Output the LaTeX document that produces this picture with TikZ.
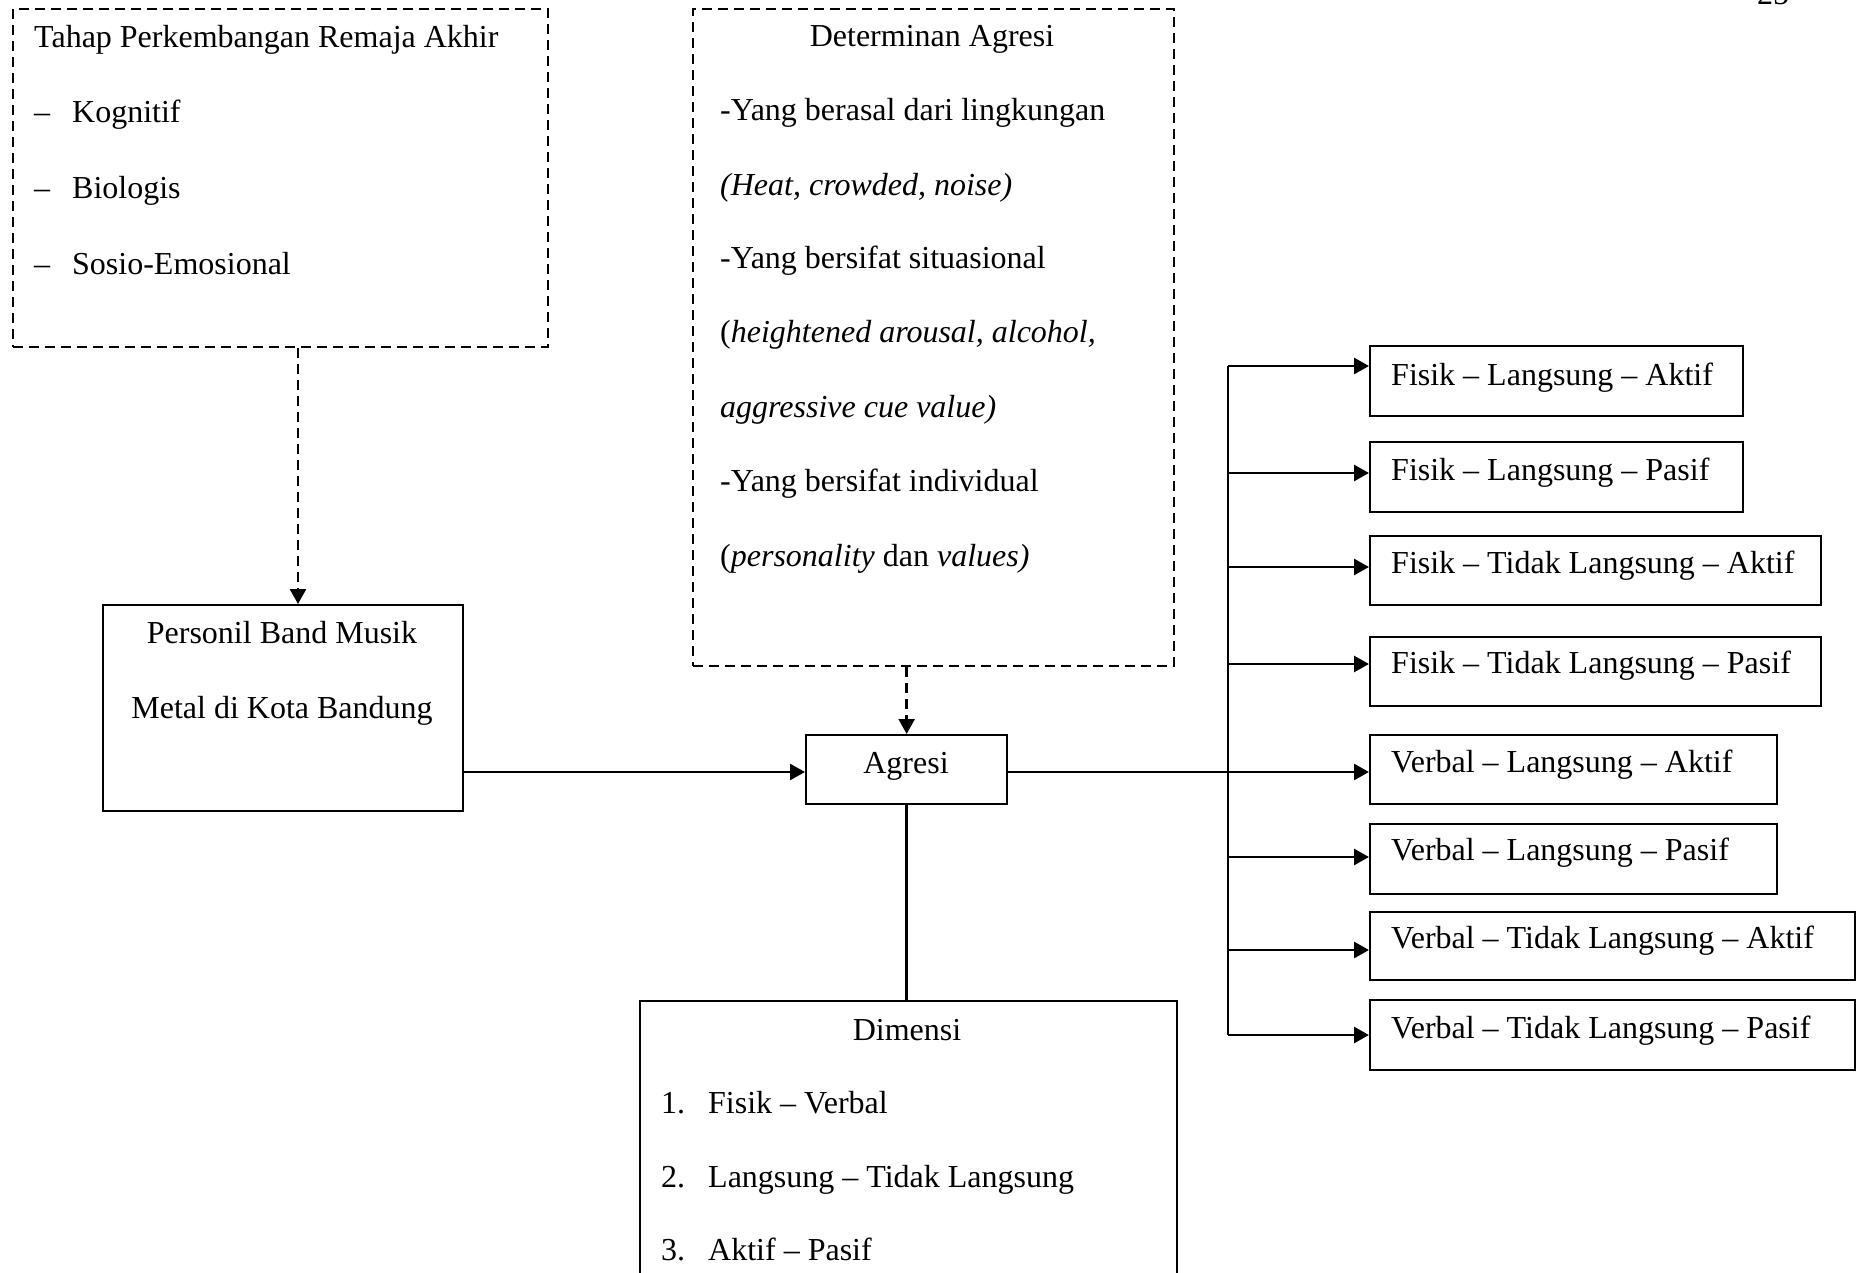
\documentclass[tikz,border=0pt]{standalone}
\usepackage{fontspec}
\setmainfont{Liberation Serif}
\usetikzlibrary{arrows.meta}
\begin{document}
\begin{tikzpicture}[x=1pt,y=-1pt,
  frame/.style={draw, line width=2.3pt, inner sep=0pt, anchor=north west},
  dframe/.style={frame, line width=2.2pt, dash pattern=on 10pt off 6pt},
  txt/.style={inner sep=0pt, anchor=base west, font=\fontsize{32}{38}\selectfont},
  ctxt/.style={txt, anchor=base},
  conn/.style={line width=2.8pt},
  arr/.style={conn, -{Triangle[length=15pt,width=16pt]}},
  darr/.style={arr, line width=2.5pt, dash pattern=on 10pt off 6pt}]
\useasboundingbox (0,0) rectangle (1856,1273);

% page number (cut off at top, as in the reference)
\node[ctxt] (pg) at (1773,5) {25};

% frames
\node[dframe, minimum width=535pt, minimum height=338pt] (lb) at (12,8) {};
\node[dframe, minimum width=481pt, minimum height=657pt] (det) at (692,8) {};
\node[frame, minimum width=360pt, minimum height=206pt] (pb) at (102,604) {};
\node[frame, minimum width=201pt, minimum height=69pt] (ag) at (805,734) {};
\node[frame, minimum width=537pt, minimum height=300pt] (dm) at (639,1000) {};
\node[frame, minimum width=373pt, minimum height=70pt] (f1) at (1369,345) {};
\node[frame, minimum width=373pt, minimum height=70pt] (f2) at (1369,441) {};
\node[frame, minimum width=451pt, minimum height=69pt] (f3) at (1369,535) {};
\node[frame, minimum width=451pt, minimum height=69pt] (f4) at (1369,636) {};
\node[frame, minimum width=407pt, minimum height=69pt] (v1) at (1369,734) {};
\node[frame, minimum width=407pt, minimum height=70pt] (v2) at (1369,823) {};
\node[frame, minimum width=485pt, minimum height=68pt] (v3) at (1369,911) {};
\node[frame, minimum width=485pt, minimum height=70pt] (v4) at (1369,999) {};

% left dashed box text
\node[txt] (lbt) at (34,48) {Tahap Perkembangan Remaja Akhir};
\node[txt] (lbd1) at (34,123) {–};
\node[txt] (lbi1) at (72,123) {Kognitif};
\node[txt] (lbd2) at (34,199) {–};
\node[txt] (lbi2) at (72,199) {Biologis};
\node[txt] (lbd3) at (34,275) {–};
\node[txt] (lbi3) at (72,275) {Sosio-Emosional};

% determinan text
\node[ctxt] (dett) at (932,47) {Determinan Agresi};
\node[txt] (det1) at (720,121) {-Yang berasal dari lingkungan};
\node[txt] (det2) at (720,196) {\textit{(Heat, crowded, noise)}};
\node[txt] (det3) at (720,269) {-Yang bersifat situasional};
\node[txt] (det4) at (720,343) {(\textit{heightened arousal, alcohol,}};
\node[txt] (det5) at (720,417) {\textit{aggressive cue value)}};
\node[txt] (det6) at (720,491) {-Yang bersifat individual};
\node[txt] (det7) at (720,566) {(\textit{personality} dan \textit{values)}};

% personil
\node[ctxt] (pb1) at (282,643) {Personil Band Musik};
\node[ctxt] (pb2) at (282,718) {Metal di Kota Bandung};

% agresi
\node[ctxt] (agt) at (906,773) {Agresi};

% dimensi
\node[ctxt] (dmt) at (907,1040) {Dimensi};
\node[txt] (dmn1) at (661,1113) {1.};
\node[txt] (dmi1) at (708,1113) {Fisik – Verbal};
\node[txt] (dmn2) at (661,1187) {2.};
\node[txt] (dmi2) at (708,1187) {Langsung – Tidak Langsung};
\node[txt] (dmn3) at (661,1260) {3.};
\node[txt] (dmi3) at (708,1260) {Aktif – Pasif};

% right box texts
\node[txt] (f1t) at (1391,385) {Fisik – Langsung – Aktif};
\node[txt] (f2t) at (1391,480) {Fisik – Langsung – Pasif};
\node[txt] (f3t) at (1391,573) {Fisik – Tidak Langsung – Aktif};
\node[txt] (f4t) at (1391,673) {Fisik – Tidak Langsung – Pasif};
\node[txt] (v1t) at (1391,772) {Verbal – Langsung – Aktif};
\node[txt] (v2t) at (1391,860) {Verbal – Langsung – Pasif};
\node[txt] (v3t) at (1391,948) {Verbal – Tidak Langsung – Aktif};
\node[txt] (v4t) at (1391,1038) {Verbal – Tidak Langsung – Pasif};

% connector points
\coordinate (ldx) at (298,0);
\coordinate (bx) at (1228,0);
\coordinate (mainy) at (0,772);
\coordinate (f1in) at (f1.west |- 0,366);
\coordinate (f2in) at (f2.west |- 0,473);
\coordinate (f3in) at (f3.west |- 0,567);
\coordinate (f4in) at (f4.west |- 0,664);
\coordinate (v1in) at (v1.west |- mainy);
\coordinate (v2in) at (v2.west |- 0,857);
\coordinate (v3in) at (v3.west |- 0,950);
\coordinate (v4in) at (v4.west |- 0,1035);

% connectors
\draw[darr] (lb.south -| ldx) -- (pb.north -| ldx);
\draw[darr] (det.south -| ag.north) -- (ag.north);
\draw[arr] (pb.east |- mainy) -- (ag.west |- mainy);
\draw[conn] (ag.south) -- (ag.south |- dm.north);
\draw[conn] (bx |- f1in) -- (bx |- v4in);
\foreach \b in {f1in,f2in,f3in,f4in,v2in,v3in,v4in}
  \draw[arr] (bx |- \b) -- (\b);
\draw[arr] (ag.east |- mainy) -- (v1in);
\end{tikzpicture}
\end{document}
